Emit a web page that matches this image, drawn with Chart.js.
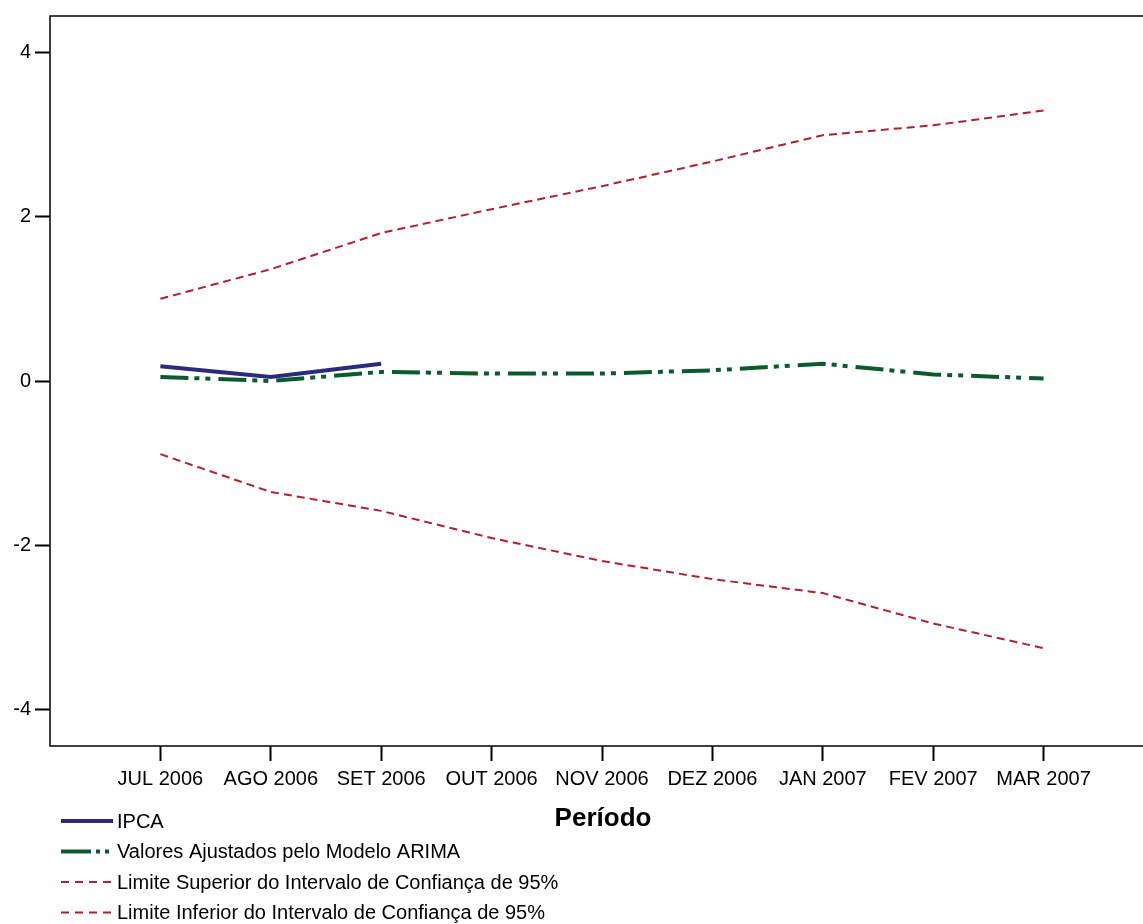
<!DOCTYPE html>
<html>
<head>
<meta charset="utf-8">
<script src="https://cdn.jsdelivr.net/npm/chart.js@4.4.1/dist/chart.umd.min.js"></script>
<style>
  html, body { margin: 0; padding: 0; background: #fff; overflow: hidden; }
  #wrap { width: 1160px; height: 924px; }
</style>
</head>
<body>
<div id="wrap"><canvas id="chart" width="1160" height="924"></canvas></div>
<script>
/* ---------------------------
   Data
--------------------------- */
const periods = ["JUL 2006", "AGO 2006", "SET 2006", "OUT 2006", "NOV 2006",
                 "DEZ 2006", "JAN 2007", "FEV 2007", "MAR 2007"];
const ipca = [0.18, 0.05, 0.21];
const arima = [0.05, 0.00, 0.11, 0.09, 0.09, 0.13, 0.21, 0.08, 0.03];
const upper = [1.00, 1.36, 1.80, 2.09, 2.37, 2.67, 2.99, 3.11, 3.29];
const lower = [-0.89, -1.35, -1.58, -1.91, -2.19, -2.41, -2.58, -2.95, -3.25];
const yTicks = [-4, -2, 0, 2, 4];

const FONT = "'Liberation Sans', Arial, sans-serif";

function toPoints(arr) {
  return arr.map((v, i) => ({ x: i, y: v }));
}

/* ---------------------------
   Frame, title and legend
--------------------------- */
const extras = {
  id: "extras",
  afterDraw(chart) {
    const { ctx, chartArea: a } = chart;
    ctx.save();
    ctx.strokeStyle = "#000";
    ctx.lineWidth = 1.5;
    ctx.strokeRect(a.left, a.top, a.right - a.left, a.bottom - a.top);

    // axis title
    ctx.fillStyle = "#000";
    ctx.font = "bold 26px " + FONT;
    ctx.textAlign = "center";
    ctx.textBaseline = "middle";
    ctx.fillText("Período", 603, 819);

    // legend rows
    ctx.font = "20px " + FONT;
    ctx.textAlign = "left";
    chart.data.datasets.forEach((ds, i) => {
      const y = 821 + i * 30.5;
      ctx.strokeStyle = ds.borderColor;
      ctx.lineWidth = ds.borderWidth;
      ctx.setLineDash(ds.legendDash || ds.borderDash || []);
      ctx.beginPath();
      ctx.moveTo(61, y);
      ctx.lineTo(113, y);
      ctx.stroke();
      ctx.setLineDash([]);
      ctx.fillStyle = "#000";
      ctx.fillText(ds.label, 117, y + 1);
    });
    ctx.restore();
  }
};

/* ---------------------------
   Chart
--------------------------- */
new Chart(document.getElementById("chart").getContext("2d"), {
  type: "line",
  data: {
    datasets: [
      { label: "IPCA", data: toPoints(ipca), borderColor: "#2b2a7c", borderWidth: 4 },
      { label: "Valores Ajustados pelo Modelo ARIMA", data: toPoints(arima),
        borderColor: "#0b5a2e", borderWidth: 4, borderDash: [28, 6, 5, 6, 5, 8],
        legendDash: [30, 5, 4, 5, 4, 8] },
      { label: "Limite Superior do Intervalo de Confiança de 95%", data: toPoints(upper),
        borderColor: "#b0212b", borderWidth: 2, borderDash: [8, 5], legendDash: [8, 6] },
      { label: "Limite Inferior do Intervalo de Confiança de 95%", data: toPoints(lower),
        borderColor: "#b0212b", borderWidth: 2, borderDash: [8, 5], legendDash: [8, 6] }
    ]
  },
  options: {
    responsive: false,
    animation: false,
    elements: { point: { radius: 0 }, line: { tension: 0, borderCapStyle: "butt" } },
    layout: { padding: { top: 15, right: 6, bottom: 138, left: 0 } },
    plugins: { legend: { display: false }, tooltip: { enabled: false } },
    scales: {
      x: {
        type: "linear",
        min: -1,
        max: 9,
        afterBuildTicks: s => { s.ticks = periods.map((p, i) => ({ value: i })); },
        afterFit: s => { s.height = 40; },
        border: { display: false },
        grid: { drawOnChartArea: false, tickLength: 15, tickColor: "#000", tickWidth: 2 },
        ticks: {
          autoSkip: false, maxRotation: 0, padding: 6, color: "#000",
          font: { family: FONT, size: 20 },
          callback: v => periods[v] ?? ""
        }
      },
      y: {
        min: -4.44,
        max: 4.44,
        afterBuildTicks: s => { s.ticks = yTicks.map(v => ({ value: v })); },
        afterFit: s => { s.width = 50; },
        border: { display: false },
        grid: { drawOnChartArea: false, tickLength: 15, tickColor: "#000", tickWidth: 2 },
        ticks: { padding: 4, color: "#000", font: { family: FONT, size: 20 } }
      }
    }
  },
  plugins: [extras]
});
</script>
</body>
</html>
